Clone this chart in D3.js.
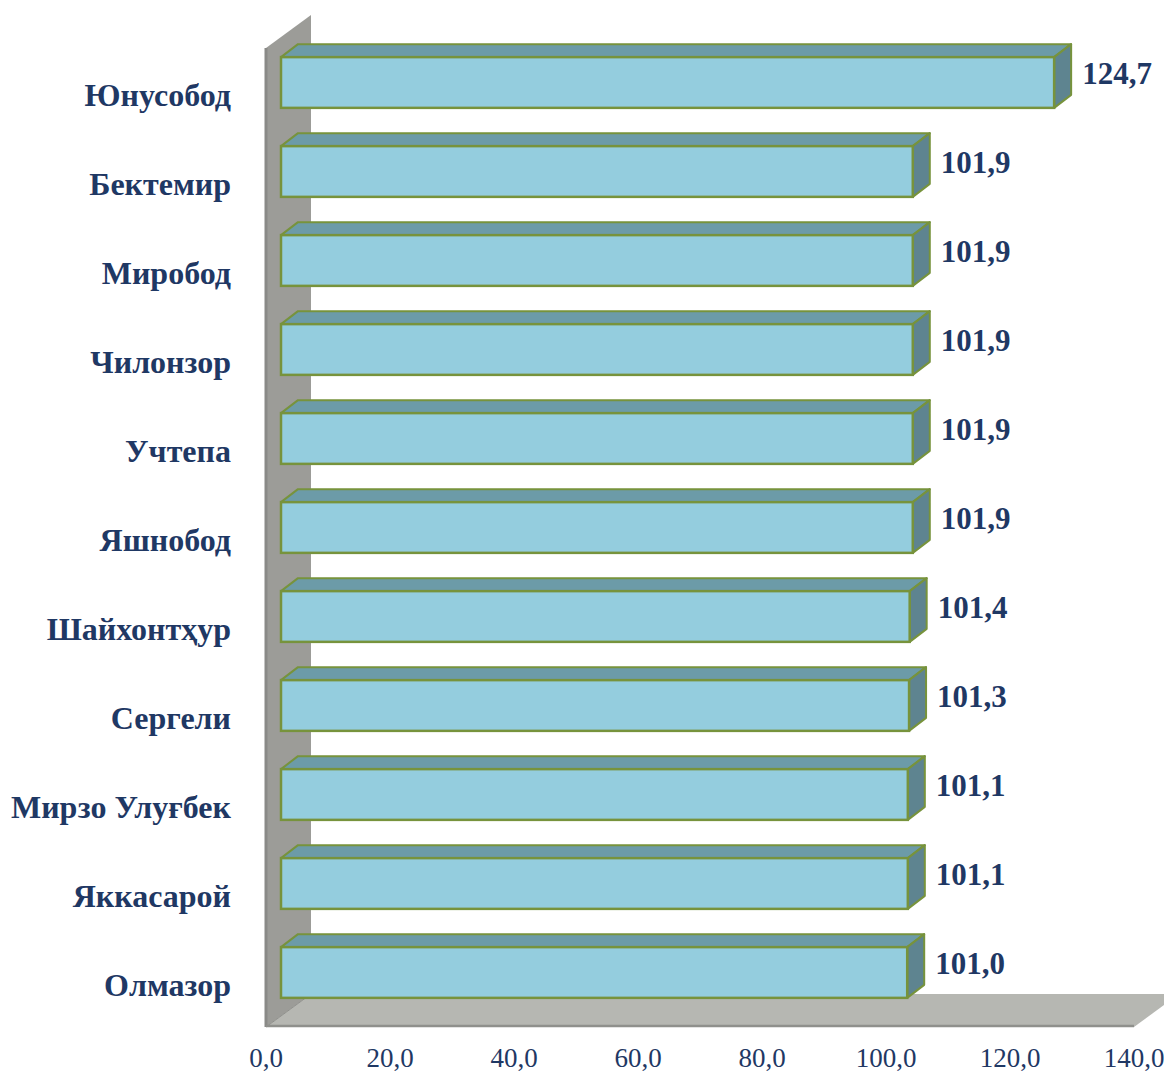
<!DOCTYPE html>
<html>
<head>
<meta charset="utf-8">
<script src="https://cdn.jsdelivr.net/npm/d3@7"></script>
<style>
  html, body { margin: 0; padding: 0; background: #fff; }
  svg { display: block; }
</style>
</head>
<body>
<svg id="chart" width="1164" height="1072"></svg>
<script>
const categories = ["Юнусобод", "Бектемир", "Миробод", "Чилонзор", "Учтепа", "Яшнобод", "Шайхонтҳур", "Сергели", "Мирзо Улуғбек", "Яккасарой", "Олмазор"];
const values = [124.7, 101.9, 101.9, 101.9, 101.9, 101.9, 101.4, 101.3, 101.1, 101.1, 101.0];
const valueLabels = ["124,7", "101,9", "101,9", "101,9", "101,9", "101,9", "101,4", "101,3", "101,1", "101,1", "101,0"];
const tickValues = [0, 20, 40, 60, 80, 100, 120, 140];
const tickLabels = ["0,0", "20,0", "40,0", "60,0", "80,0", "100,0", "120,0", "140,0"];

const svg = d3.select("#chart");
const x = d3.scaleLinear().domain([0, 140]).range([266, 1134]);
const y = d3.scaleBand().domain(categories).range([48, 1027]).paddingInner(0.43).paddingOuter(0.215);

const depth = {dx: 45, dy: -33};     // wall/floor depth
const front = {dx: 15, dy: -10};     // bar front offset inside depth
const bd = {dx: 17, dy: -13};        // bar depth

const textColor = "#1F3864";
const serif = "'Liberation Serif', 'Times New Roman', serif";

const x0 = x(0), yTop = 48, yBot = 1027;
// wall
svg.append("polygon")
  .attr("points", [[x0, yTop], [x0 + depth.dx, yTop + depth.dy], [x0 + depth.dx, yBot + depth.dy], [x0, yBot]].join(" "))
  .attr("fill", "#9C9C98");
svg.append("line").attr("x1", x0).attr("x2", x0).attr("y1", yTop).attr("y2", yBot)
  .attr("stroke", "#8A8A87").attr("stroke-width", 3);
// floor
const xr = x(140);
svg.append("polygon")
  .attr("points", [[x0, yBot], [x0 + depth.dx, yBot + depth.dy], [xr + depth.dx, yBot + depth.dy], [xr, yBot]].join(" "))
  .attr("fill", "#B6B7B2");
svg.append("line").attr("x1", x0).attr("x2", xr).attr("y1", yBot - 1).attr("y2", yBot - 1)
  .attr("stroke", "#8F908C").attr("stroke-width", 2.5);
svg.append("line").attr("x1", x0).attr("x2", x0 + depth.dx).attr("y1", yBot).attr("y2", yBot + depth.dy)
  .attr("stroke", "#8F908C").attr("stroke-width", 1);

// bars
const g = svg.append("g");
categories.forEach((c, i) => {
  const v = values[i];
  const xl = x(0) + front.dx, xv = x(v) + front.dx;
  const yt = y(c) + front.dy, yb = yt + y.bandwidth();
  const stroke = "#77933C";
  // top face
  g.append("polygon")
    .attr("points", [[xl, yt], [xl + bd.dx, yt + bd.dy], [xv + bd.dx, yt + bd.dy], [xv, yt]].join(" "))
    .attr("fill", "#6C9BA8").attr("stroke", stroke).attr("stroke-width", 2).attr("stroke-linejoin", "round");
  // side face
  g.append("polygon")
    .attr("points", [[xv, yt], [xv + bd.dx, yt + bd.dy], [xv + bd.dx, yb + bd.dy], [xv, yb]].join(" "))
    .attr("fill", "#5E8490").attr("stroke", stroke).attr("stroke-width", 2).attr("stroke-linejoin", "round");
  // front face
  g.append("rect")
    .attr("x", xl).attr("y", yt).attr("width", xv - xl).attr("height", y.bandwidth())
    .attr("fill", "#94CDDE").attr("stroke", stroke).attr("stroke-width", 2.5);
  // value label
  g.append("text")
    .attr("x", xv + bd.dx + 11).attr("y", y(c) + y.bandwidth() / 2 - 19)
    .attr("dy", "0.35em")
    .attr("font-family", serif).attr("font-weight", "bold").attr("font-size", 31)
    .attr("fill", textColor).text(valueLabels[i]);
  // category label
  svg.append("text")
    .attr("x", 231).attr("y", y(c) + y.bandwidth() / 2 + 2)
    .attr("dy", "0.35em").attr("text-anchor", "end")
    .attr("font-family", serif).attr("font-weight", "bold").attr("font-size", 32)
    .attr("fill", textColor).text(c);
});

// x tick labels
tickValues.forEach((t, i) => {
  svg.append("text")
    .attr("x", x(t)).attr("y", 1058).attr("dy", "0.35em")
    .attr("text-anchor", "middle")
    .attr("font-family", serif).attr("font-size", 27)
    .attr("fill", textColor).text(tickLabels[i]);
});
</script>
</body>
</html>
